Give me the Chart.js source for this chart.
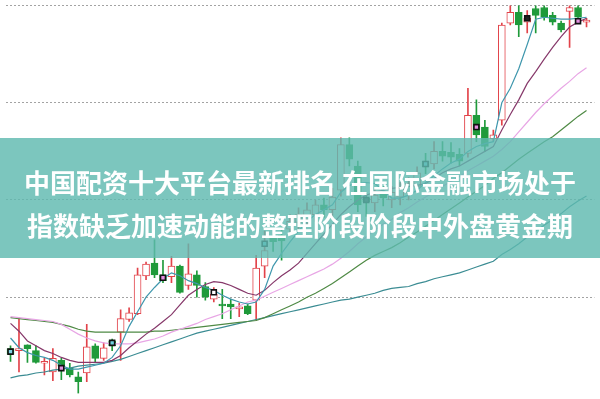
<!DOCTYPE html>
<html><head><meta charset="utf-8">
<script src="https://cdn.jsdelivr.net/npm/chart.js@4/dist/chart.umd.min.js"></script>
<style>
html,body{margin:0;padding:0;background:#fff;}
#wrap{position:relative;width:600px;height:399px;overflow:hidden;}
#banner{position:absolute;left:0;top:138px;width:600px;height:120px;background:rgba(95,186,176,0.82);}
.t{position:absolute;left:0;width:600px;text-align:center;color:#fff;font-family:"Noto Sans CJK SC","Noto Sans",sans-serif;font-weight:700;font-size:26px;line-height:30px;white-space:nowrap;}
</style></head><body>
<div id="wrap"><canvas id="c" width="600" height="399"></canvas>
<div id="banner"><div class="t" style="top:29px">中国配资十大平台最新排名 在国际金融市场处于</div><div class="t" style="top:72px">指数缺乏加速动能的整理阶段阶段中外盘黄金期</div></div></div>
<script>
const opens = [24.7,24.5,25.1,24.5,23.2,22.3,23.5,22.7,21.8,22.2, 25.0,23.7,25.5,26.4,27.7,28.3,32.2,33.5,32.3,32.1, 33.2,31.2,32.3,31.1,29.8,29.3,29.3,28.8,29.1,29.7, 33.2,36.2,36.4,37.0,37.7,38.0,38.5,39.5,39.0,41.0, 45.7,43.5,40.2,39.7,40.7,40.0,40.3,40.7,41.4,44.0, 43.7,45.0,44.9,44.7,44.8,48.7,47.5,46.3,48.2,58.2, 59.3,58.3,59.7,59.8,59.0,58.2,59.4,59.8,58.3];
const highs = [25.0,27.9,25.1,25.0,23.7,24.7,23.7,23.2,22.3,27.2, 25.2,25.3,25.7,28.7,28.9,33.0,33.6,35.9,33.8,34.2, 33.3,35.5,32.7,31.5,31.0,30.8,29.8,29.4,29.3,34.3, 36.8,36.5,37.2,38.5,39.2,39.7,40.0,40.2,41.2,46.4, 46.4,44.0,40.7,41.2,41.4,41.4,41.8,42.3,43.4,44.8, 46.0,46.0,45.9,45.3,51.5,50.3,48.2,47.2,58.2,60.6, 60.6,59.5,60.6,60.6,59.3,58.4,60.6,60.6,58.7];
const lows = [23.4,22.3,23.3,23.2,22.0,21.4,21.5,21.8,20.1,21.3, 23.3,23.5,24.5,23.5,27.5,28.2,31.8,32.0,31.5,31.5, 30.4,30.8,30.0,29.7,29.5,27.8,27.8,28.0,28.2,27.6, 32.0,34.7,33.8,36.4,37.0,37.5,37.8,38.2,38.2,40.4, 43.5,38.8,38.3,38.8,39.4,39.2,39.5,40.0,40.8,42.7, 43.2,44.0,43.8,43.5,44.4,46.0,45.0,46.0,47.7,58.0, 56.8,57.2,57.2,58.5,58.0,57.3,55.7,58.5,57.8];
const closes = [24.1,24.7,24.7,23.3,23.4,23.7,22.9,22.0,21.3,24.9, 23.7,24.8,25.0,27.8,28.4,32.3,33.4,32.3,31.7,33.2, 30.5,32.4,31.2,30.0,30.3,29.1,29.0,29.0,28.3,33.0, 34.8,35.7,35.8,37.8,38.5,39.0,39.5,39.0,40.3,45.7, 44.2,39.5,39.8,40.5,40.2,40.8,41.2,41.7,42.8,43.4, 45.0,44.5,44.4,44.0,48.7,46.7,45.5,46.7,58.0,59.3, 58.0,58.7,59.0,58.8,58.3,57.5,59.8,58.8,58.5];

const ma5 = [25.8,24.8,24.3,24.0,23.8,23.5,23.0,22.6,22.6,22.8, 23.0,23.2,23.8,25.0,27.0,28.5,30.0,31.0,31.9,32.5, 32.2,31.7,31.4,31.0,30.7,30.2,29.8,29.5,29.3,29.5, 30.8,33.2,34.5,35.7,36.8,37.8,38.5,39.0,39.5,40.8, 41.5,41.7,41.8,41.7,41.0,40.2,40.2,40.5,41.0,41.8, 42.5,43.2,43.8,44.2,45.0,45.5,45.8,46.0,50.0,51.5, 53.5,56.0,58.6,58.8,58.7,58.6,58.6,58.7,58.8];
const ma10 = [27.3,26.5,25.5,25.0,24.5,24.2,23.8,23.5,23.3,23.3, 23.3,23.3,23.5,24.0,24.8,25.5,26.2,26.8,27.5,28.2, 29.2,30.2,30.8,31.3,31.6,31.5,31.2,30.8,30.4,30.2, 30.7,31.5,32.2,32.8,33.5,34.5,35.5,36.5,37.5,38.5, 39.3,40.0,40.5,40.8,41.0,41.2,41.3,41.4,41.5,41.7, 42.2,42.8,43.2,43.5,44.0,44.5,45.0,45.5,47.2,48.8, 50.3,52.0,53.2,54.5,55.7,56.8,57.8,58.3,58.7];
const ma20 = [28.0,27.9,27.8,27.7,27.6,27.5,27.2,26.7,26.2,25.8, 25.5,25.3,25.2,25.2,25.2,25.3,25.5,25.7,26.0,26.4, 26.7,27.0,27.3,27.7,28.0,28.3,28.7,29.1,29.5,29.7, 30.1,30.5,30.9,31.3,31.7,32.1,32.5,32.9,33.4,34.0, 34.7,35.5,36.2,36.9,37.5,38.0,38.7,39.2,39.8,40.3, 40.8,41.4,41.9,42.4,43.0,43.5,44.0,44.5,45.2,46.0, 47.0,48.0,49.0,49.9,50.7,51.5,52.2,53.0,53.6];
const ma30 = [27.9,27.8,27.7,27.6,27.5,27.4,27.2,27.0,26.7,26.5, 26.4,26.4,26.4,26.4,26.4,26.4,26.4,26.5,26.5,26.6, 26.7,26.8,26.9,27.0,27.1,27.2,27.3,27.4,27.5,27.6, 27.9,28.3,28.7,29.1,29.5,30.0,30.4,30.9,31.4,32.0, 32.6,33.2,33.8,34.3,34.7,35.1,35.6,36.2,36.7,37.3, 37.9,38.5,39.1,39.7,40.3,40.9,41.5,42.2,42.8,43.5, 44.2,44.8,45.4,46.0,46.5,47.2,47.9,48.6,49.2];
const ma60 = [21.7,21.9,22.0,22.2,22.3,22.5,22.6,22.7,22.9,23.0, 23.1,23.2,23.4,23.6,23.9,24.2,24.5,24.8,25.1,25.4, 25.7,26.0,26.3,26.5,26.7,26.9,27.1,27.3,27.5,27.7, 27.9,28.1,28.3,28.5,28.7,28.9,29.1,29.3,29.5,29.7, 29.8,30.0,30.2,30.4,30.7,30.9,31.0,31.1,31.4,31.6, 31.9,32.1,32.3,32.5,32.8,33.1,33.4,33.7,34.4,34.9, 35.5,36.2,36.8,37.4,38.0,38.6,39.3,39.9,40.4];

const markerIdx = [0,6,12,18,24,30,42,49,55,61,67];
const markerVals = [24.4,22.7,25.3,32.0,30.5,35.5,40.0,43.7,47.5,58.7,58.4];
const markerFill = ['#7fd3e6','#e58fe0','#6fd0e0','#e58fe0','#ffffff','#6fd0e0','#333333','#6fd0e0','#e58fe0','#222222','#e58fe0'];

const gridTicks = [30,40,50,60];

const RED = '#e2434a', GREEN = '#1f9a3a';
const up = opens.map((o,i) => closes[i] >= o);
const candleColor = up.map(u => u ? RED : GREEN);
const bodyFill = up.map(u => u ? '#ffffff' : GREEN);

const bodies = opens.map((o,i) => ({x:i, y:[o, closes[i]]}));
const wicks = opens.map((o,i) => ({x:i, y:[lows[i], highs[i]]}));
const pts = arr => arr.map((v,i) => ({x:i, y:v}));
const lineDs = (arr, color, order) => ({type:'line', data:pts(arr), borderColor:color, borderWidth:1.2, pointRadius:0, tension:0, fill:false, order});

new Chart(document.getElementById('c'), {
  type:'bar',
  data:{datasets:[
    {type:'line', data:markerIdx.map((k,i)=>({x:k,y:markerVals[i]})), showLine:false, pointStyle:'rect', pointRadius:3.5, pointBackgroundColor:markerFill, pointBorderColor:'#111', pointBorderWidth:1.6, order:0},
    lineDs(ma5,'#3f97ad',1),
    lineDs(ma10,'#86386a',1),
    lineDs(ma20,'#e8a6e5',1),
    lineDs(ma30,'#4f8a45',1),
    lineDs(ma60,'#3b8c93',1),
    {data:bodies, backgroundColor:bodyFill, borderColor:candleColor, borderWidth:1, borderSkipped:false, barThickness:7, grouped:false, order:2},
    {data:wicks, backgroundColor:candleColor, borderWidth:0, barThickness:1, grouped:false, order:3}
  ]},
  options:{
    responsive:false, animation:false, events:[],
    layout:{padding:0},
    plugins:{legend:{display:false}, tooltip:{enabled:false}},
    scales:{
      x:{type:'linear', min:-0.58, max:68.93, display:false, offset:false},
      y:{type:'linear', min:20.1, max:60, ticks:{display:false}, grid:{color:'#a3a3a3', lineWidth:1, drawTicks:false},
         border:{display:false, dash:[2,2]},
         afterBuildTicks: s => { s.ticks = gridTicks.map(v => ({value:v})); }}
    }
  }
});
</script>
</body></html>
